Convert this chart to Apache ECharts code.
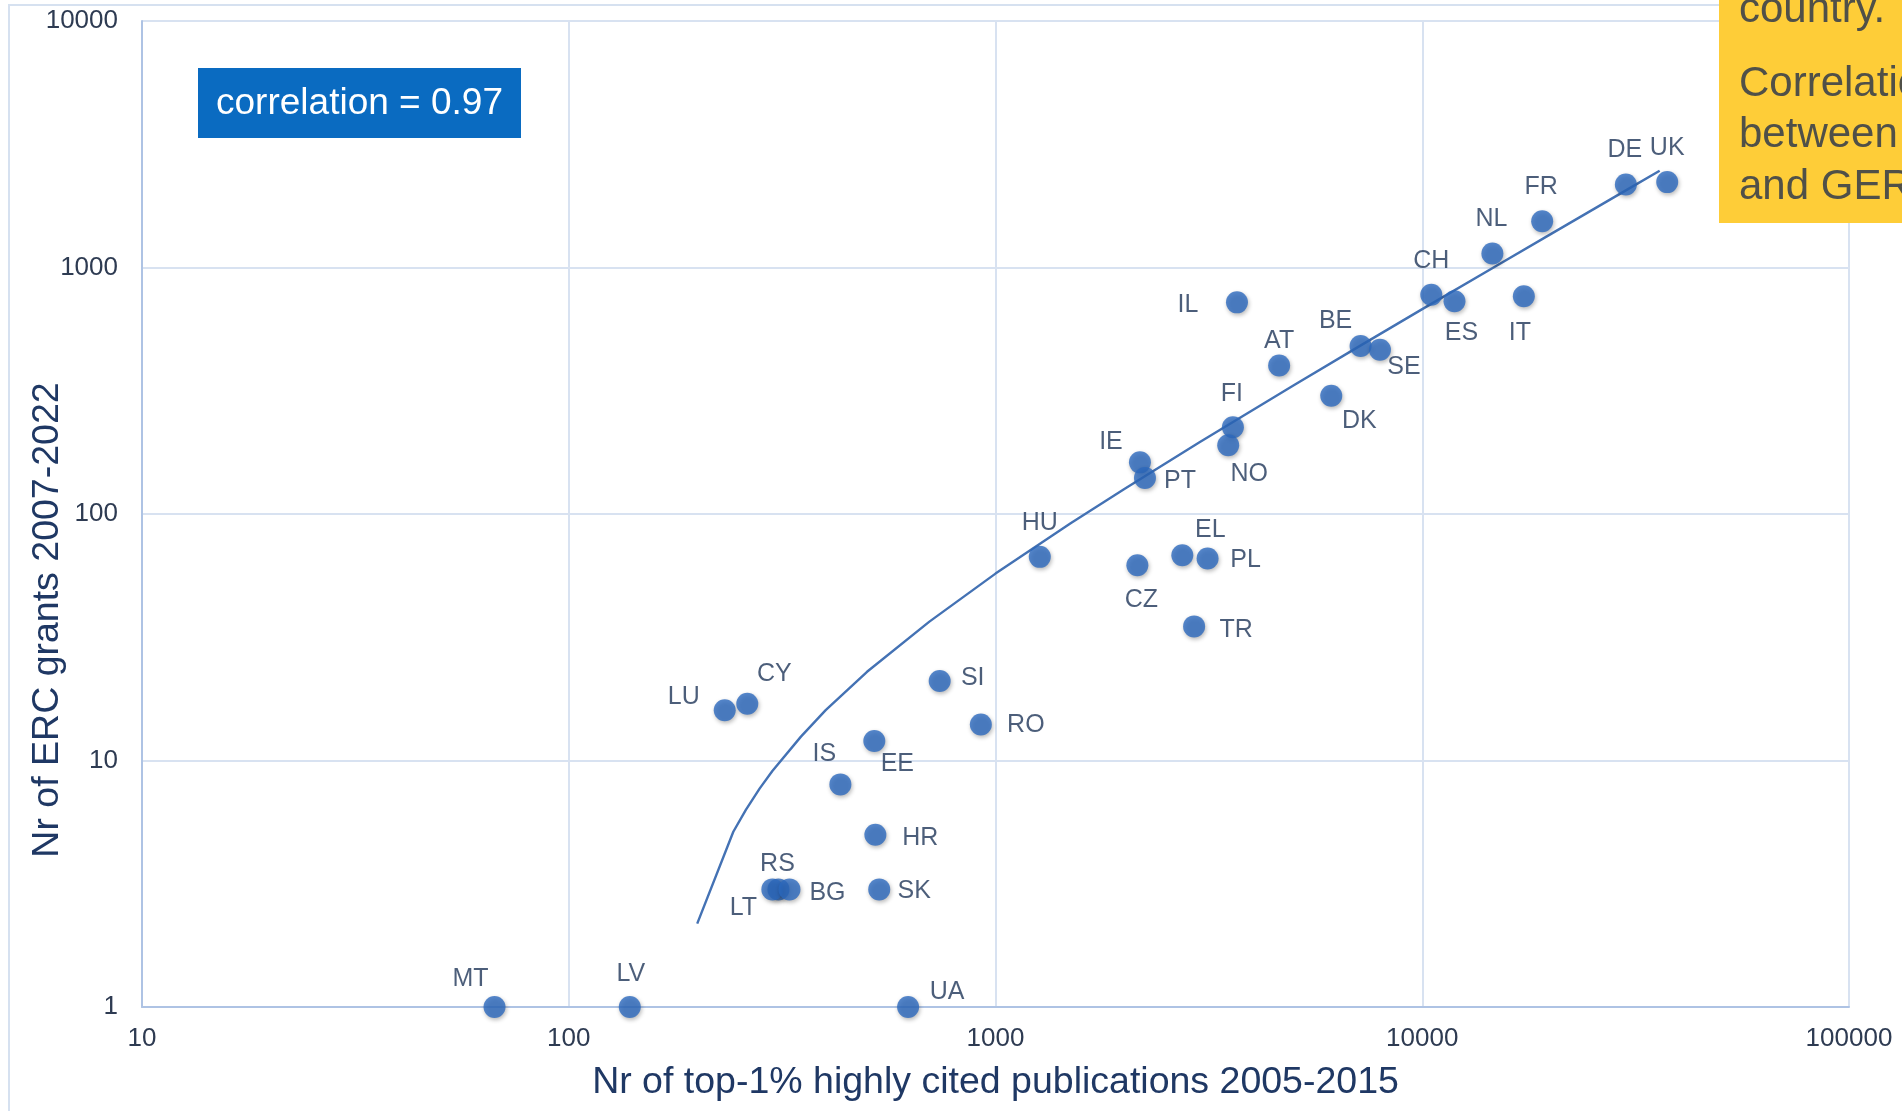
<!DOCTYPE html>
<html>
<head>
<meta charset="utf-8">
<script src="https://cdn.jsdelivr.net/npm/echarts@6/dist/echarts.min.js"></script>
<style>
html,body{margin:0;padding:0;background:#fff;}
#chart{width:1902px;height:1111px;}
</style>
</head>
<body>
<div id="chart"></div>
<script>
// ---- data ----
const countries = ['UK','DE','FR','NL','CH','ES','IT','IL','BE','SE','AT','DK','FI','NO','IE','PT','HU','CZ','EL','PL','TR','SI','RO','LU','CY','EE','IS','HR','SK','RS','LT','BG','MT','LV','UA'];
const publications = [37500,30000,19100,14600,10500,11900,17300,3680,7170,7960,4620,6120,3600,3510,2180,2240,1270,2150,2740,3140,2920,740,924,232,262,520,433,523,534,310,300,329,67,139,624];
const grants = [2220,2170,1540,1140,775,730,765,722,480,464,400,302,225,190,162,140,67,62,68,66,35,21,14,16,17,12,8,5,3,3,3,3,1,1,1];
// trend line
const trendPublications = [200,243,260,280,300,350,400,500,700,1000,1500,2000,3000,5000,7000,10000,15000,20000,30000,36000];
const trendGrants = [2.18,5.14,6.31,7.69,9.07,12.5,16.0,22.9,36.6,57.3,91.8,126,195,333,471,678,1022,1366,2055,2469];
const xTickLabels = ['10','100','1000','10000','100000'];
const yTickLabels = ['1','10','100','1000','10000'];
const correlationText = 'correlation = 0.97';
const xAxisTitle = 'Nr of top-1% highly cited publications 2005-2015';
const yAxisTitle = 'Nr of ERC grants 2007-2022';
const noteLines = ['country.', 'Correlation', 'between', 'and GERD'];

// ---- label placement (style, px offsets from marker centre) ----
const labelOffsets = {
  UK:[0,-34], DE:[-1,-34], FR:[-1,-34], NL:[-1,-34], CH:[0,-34], ES:[7,32], IT:[-4,37],
  IL:[-49,3], BE:[-25,-25], SE:[24,17], AT:[0,-24], DK:[28,25], FI:[-1,-33], NO:[21,29],
  IE:[-29,-20], PT:[35,3], HU:[0,-34], CZ:[4,35], EL:[28,-25], PL:[38,2], TR:[42,4],
  SI:[33,-3], RO:[45,1], LU:[-41,-13], CY:[27,-30], EE:[23,23], IS:[-16,-30], HR:[45,3],
  SK:[35,2], RS:[-1,-25], LT:[-29,19], BG:[38,4], MT:[-24,-28], LV:[1,-33], UA:[39,-15]
};

const FONT = '"Liberation Sans", Arial, sans-serif';
const chart = echarts.init(document.getElementById('chart'));

const scatterData = countries.map((c, i) => ({ name: c, value: [publications[i], grants[i]] }));
const trendData = trendPublications.map((x, i) => [x, trendGrants[i]]);

const option = {
  animation: false,
  backgroundColor: '#ffffff',
  grid: { left: 142, right: 53, top: 21, bottom: 104 },
  xAxis: {
    type: 'log', logBase: 10, min: 10, max: 100000,
    axisLine: { show: true, lineStyle: { color: '#aec3e4', width: 2 } },
    axisTick: { show: false },
    splitLine: { show: true, lineStyle: { color: '#d8e2f1', width: 2 } },
    axisLabel: {
      fontSize: 26, color: '#2e3b52', fontFamily: FONT, margin: 19,
      formatter: v => { const k = Math.round(Math.log10(v)) - 1; return xTickLabels[k] !== undefined ? xTickLabels[k] : ''; }
    },
    name: xAxisTitle, nameLocation: 'middle', nameGap: 57,
    nameTextStyle: { fontSize: 37.5, color: '#1f3864', fontFamily: FONT }
  },
  yAxis: {
    type: 'log', logBase: 10, min: 1, max: 10000,
    axisLine: { show: true, lineStyle: { color: '#aec3e4', width: 2 } },
    axisTick: { show: false },
    splitLine: { show: true, lineStyle: { color: '#d8e2f1', width: 2 } },
    axisLabel: {
      fontSize: 26, color: '#2e3b52', fontFamily: FONT, margin: 24,
      formatter: v => { const k = Math.round(Math.log10(v)); return yTickLabels[k] !== undefined ? yTickLabels[k] : ''; }
    }
  },
  series: [
    {
      type: 'line', data: trendData, showSymbol: false, symbol: 'none', smooth: false,
      lineStyle: { color: '#4472b4', width: 2.4 }, z: 2, silent: true
    },
    {
      type: 'scatter', data: scatterData, symbol: 'circle', symbolSize: 22, z: 3,
      itemStyle: { color: '#2c69be', shadowBlur: 4, shadowColor: 'rgba(0,0,0,0.35)', shadowOffsetY: 2, shadowOffsetX: 1 },
      label: {
        show: true, position: 'inside', formatter: p => p.name,
        fontSize: 25, color: '#1f3659', fontFamily: FONT, align: 'center', verticalAlign: 'middle'
      },
      labelLayout: function (params) {
        const o = labelOffsets[countries[params.dataIndex]] || [0, -34];
        return { dx: o[0], dy: o[1], hideOverlap: false };
      }
    }
  ],
  graphic: [
    { type: 'rect', z: -10, shape: { x: 9, y: 5, width: 1960, height: 1130 }, style: { fill: null, stroke: '#d6e1f0', lineWidth: 2 } },
    { type: 'rect', z: 10, shape: { x: 198, y: 68, width: 323, height: 70 }, style: { fill: '#0a6bc1' } },
    { type: 'text', z: 11, x: 359.5, y: 104, style: { text: correlationText, fill: '#ffffff', font: '37px ' + FONT, align: 'center', verticalAlign: 'middle' } },
    { type: 'text', z: 5, x: 48, y: 620, rotation: Math.PI / 2, style: { text: yAxisTitle, fill: '#1f3864', font: '37.5px ' + FONT, align: 'center', verticalAlign: 'middle' } },
    { type: 'rect', z: 20, shape: { x: 1719, y: 0, width: 200, height: 223 }, style: { fill: '#fecd38' } },
    { type: 'text', z: 21, x: 1739, y: 10, style: { text: noteLines[0], fill: '#505048', font: '42px ' + FONT, align: 'left', verticalAlign: 'middle' } },
    { type: 'text', z: 21, x: 1739, y: 84, style: { text: noteLines[1], fill: '#505048', font: '42px ' + FONT, align: 'left', verticalAlign: 'middle' } },
    { type: 'text', z: 21, x: 1739, y: 135, style: { text: noteLines[2], fill: '#505048', font: '42px ' + FONT, align: 'left', verticalAlign: 'middle' } },
    { type: 'text', z: 21, x: 1739, y: 187, style: { text: noteLines[3], fill: '#505048', font: '42px ' + FONT, align: 'left', verticalAlign: 'middle' } }
  ]
};
chart.setOption(option);
</script>
</body>
</html>
